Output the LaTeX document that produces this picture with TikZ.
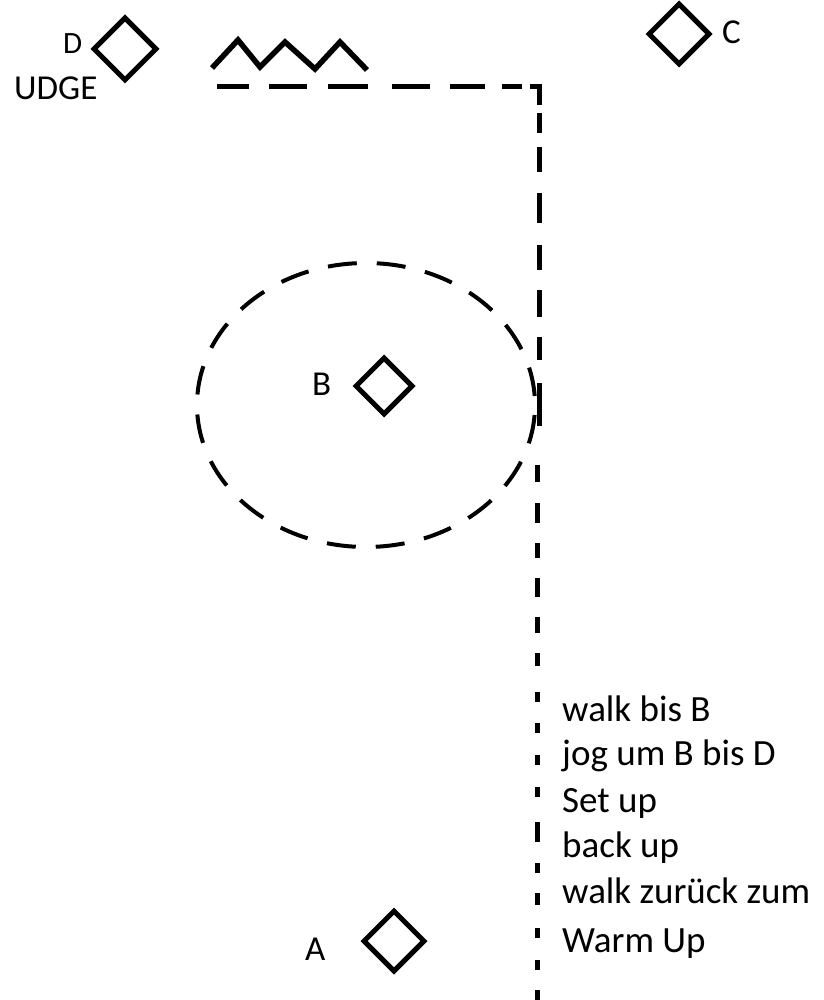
\documentclass[tikz,border=0pt]{standalone}
\usepackage{fontspec}
\setmainfont{Carlito}
\usetikzlibrary{shapes.geometric}
\begin{document}
\begin{tikzpicture}[x=1pt,y=-1pt,
  cone/.style={draw, diamond, line width=5pt, inner sep=0pt, aspect=1,
               minimum width=#1, minimum height=#1},
  cone/.default=62,
  lbl/.style={inner sep=0pt, anchor=base west, font=\fontsize{35}{40}\selectfont},
  note/.style={inner sep=0pt, anchor=base west, font=\fontsize{37}{42}\selectfont},
  route/.style={line width=5pt, line cap=butt}]
\useasboundingbox (0,0) rectangle (823,1000);

% cones
\node[cone=64] (D) at (125,49) {};
\node[cone=62] (C) at (679,34) {};
\node[cone=58] (B) at (384,386) {};
\node[cone=62] (A) at (394,941) {};

% cone labels
\node[lbl, font=\fontsize{31}{35}\selectfont] (labD) at (63,54) {D};
\node[lbl] (labUDGE) at (14,100) {UDGE};
\node[lbl] (labC) at (722,44) {C};
\node[lbl] (labB) at (312,395) {B};
\node[lbl] (labA) at (305,960) {A};

% zig-zag next to D
\draw[line width=5.5pt, line join=miter] (212,68) -- (238,40) -- (260,67) -- (285,42)
  -- (315,69) -- (340,42) -- (367,70);

% jog circle round B
\draw[line width=4pt, dash pattern=on 29pt off 20pt, dash phase=39pt]
  (366,405) ellipse [x radius=169, y radius=142];

% walking route: across the top, then down the right side
\coordinate (r0) at (217,87);
\coordinate (r1) at (539,87);
\coordinate (r2) at (539,105);
\coordinate (r3) at (539,113);
\coordinate (r4) at (539,426);
\coordinate (r5) at (537,465);
\coordinate (r6) at (537,1000);
\draw[route, dash pattern=on 32pt off 20pt on 38pt off 21pt on 40pt off 24pt on 38pt
  off 20pt on 35pt off 17pt on 20pt off 8pt on 40pt off 10pt] (r0) -- (r1) -- (r2);
\draw[route, dash pattern=on 20pt off 14pt on 25pt off 21pt on 30pt off 22pt on 25pt
  off 20pt on 27pt off 20pt on 23pt off 23pt on 43pt off 50pt] (r3) -- (r4);
\draw[route, dash pattern=on 17pt off 21pt on 20pt off 20pt on 15pt off 20pt on 19pt
  off 20pt on 16pt off 20pt on 13pt off 26pt on 10pt off 21pt on 10pt off 22pt on 10pt
  off 22pt on 10pt off 25pt on 20pt off 21pt on 10pt off 20pt on 12pt off 23pt on 10pt
  off 22pt on 10pt off 20pt on 10pt off 10pt] (r5) -- (r6);

% instructions
\node[note] (t1) at (562,721) {walk bis B};
\node[note] (t2) at (562,765) {jog um B bis D};
\node[note] (t3) at (562,812) {Set up};
\node[note] (t4) at (562,857) {back up};
\node[note] (t5) at (562,903) {walk zurück zum};
\node[note] (t6) at (562,952) {Warm Up};
\end{tikzpicture}
\end{document}
